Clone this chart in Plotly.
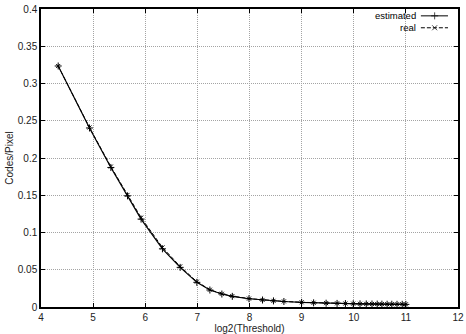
import plotly.graph_objects as go

log2_threshold = [4.33, 4.93, 5.34, 5.66, 5.92, 6.33, 6.67, 6.99, 7.24, 7.47, 7.67, 7.99,
                  8.25, 8.46, 8.66, 9.00, 9.23, 9.47, 9.68, 9.84, 9.99, 10.12, 10.24,
                  10.35, 10.45, 10.54, 10.64, 10.73, 10.83, 10.93, 11.0]
estimated = [0.3235, 0.2403, 0.1873, 0.1492, 0.1180, 0.0781, 0.0532, 0.0331, 0.0228,
             0.0174, 0.0143, 0.0111, 0.0094, 0.0082, 0.0074, 0.0062, 0.0056, 0.0051,
             0.0048, 0.0046, 0.0044, 0.0042, 0.0041, 0.0040, 0.0039, 0.0038, 0.0037,
             0.0037, 0.0036, 0.0036, 0.0035]
real = [0.3235, 0.2410, 0.1885, 0.1505, 0.1200, 0.0800, 0.0545, 0.0340, 0.0232,
        0.0177, 0.0146, 0.0113, 0.0095, 0.0083, 0.0075, 0.0063, 0.0057, 0.0052,
        0.0049, 0.0047, 0.0045, 0.0043, 0.0042, 0.0041, 0.0040, 0.0039, 0.0038,
        0.0038, 0.0037, 0.0037, 0.0036]
series_names = ["estimated", "real"]
x_ticks = [4, 5, 6, 7, 8, 9, 10, 11, 12]
y_ticks = [0, 0.05, 0.1, 0.15, 0.2, 0.25, 0.3, 0.35, 0.4]
y_tick_text = ["0", "0.05", "0.1", "0.15", "0.2", "0.25", "0.3", "0.35", "0.4"]

FONT = "Liberation Sans, Arial, sans-serif"
fig = go.Figure()

fig.add_trace(go.Scatter(
    x=log2_threshold, y=real, mode="lines+markers", name=series_names[1],
    line=dict(color="black", width=1, dash="4px,2px"),
    marker=dict(symbol="x-thin", size=4, line=dict(color="black", width=1)),
    showlegend=False))
fig.add_trace(go.Scatter(
    x=log2_threshold, y=estimated, mode="lines+markers", name=series_names[0],
    line=dict(color="black", width=1.2),
    marker=dict(symbol="cross-thin", size=5, line=dict(color="black", width=1)),
    showlegend=False))

# gnuplot-style key (text left of sample) drawn on a hidden overlay axis
key_y = [0.977, 0.937]
for name, ky, dash, sym in [(series_names[0], key_y[0], "solid", "cross-thin"),
                            (series_names[1], key_y[1], "4px,2px", "x-thin")]:
    fig.add_trace(go.Scatter(
        x=[0.911, 0.944, 0.976], y=[ky, ky, ky], xaxis="x2", yaxis="y2",
        mode="lines+markers", showlegend=False, hoverinfo="skip",
        line=dict(color="black", width=1, dash=dash),
        marker=dict(symbol=sym, size=[0, 5, 0], line=dict(color="black", width=1))))
    fig.add_annotation(x=0.902, y=ky, xref="x2", yref="y2", text=name,
                       showarrow=False, xanchor="right", yanchor="middle",
                       borderpad=0,
                       font=dict(family=FONT, size=9.5, color="black"))

axis_common = dict(showline=True, linecolor="black", linewidth=1.5, mirror="ticks",
                   ticks="inside", ticklen=4, tickcolor="black", tickwidth=1,
                   showgrid=True, gridcolor="#a4a4a4", griddash="1px,1px", gridwidth=1,
                   zeroline=False, automargin=False,
                   tickfont=dict(family=FONT, size=10, color="#222"))

fig.update_layout(
    width=466, height=334,
    margin=dict(l=41, r=8, t=9, b=27),
    paper_bgcolor="white", plot_bgcolor="white",
    xaxis=dict(range=[4, 12], tickvals=x_ticks, **axis_common,
               title=dict(text="log2(Threshold)", standoff=4,
                          font=dict(family=FONT, size=10, color="#222"))),
    yaxis=dict(range=[0, 0.4], tickvals=y_ticks, ticktext=y_tick_text, **axis_common,
               title=dict(text="Codes/Pixel", standoff=2,
                          font=dict(family=FONT, size=10, color="#222"))),
    xaxis2=dict(range=[0, 1], overlaying="x", visible=False, fixedrange=True),
    yaxis2=dict(range=[0, 1], overlaying="y", visible=False, fixedrange=True),
)

fig.write_html("out.html")
